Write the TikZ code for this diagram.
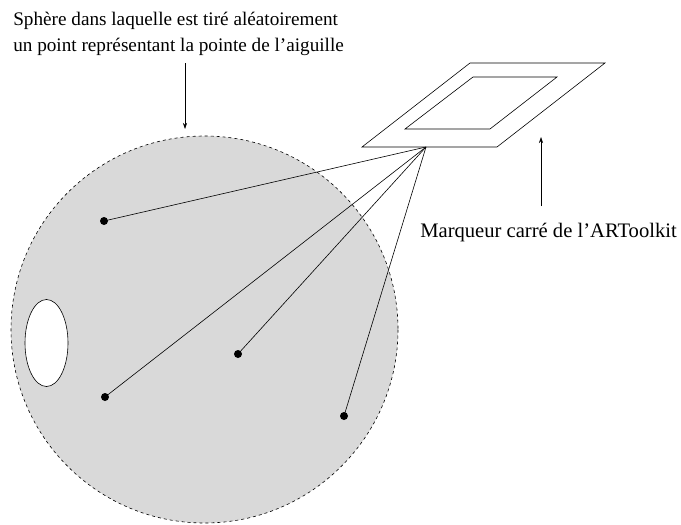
\documentclass[tikz,border=0pt]{standalone}
\usepackage{fontspec}
\setmainfont{Liberation Serif}
\usetikzlibrary{arrows.meta, positioning}

\begin{document}
\begin{tikzpicture}[
    >={Stealth[length=6pt, width=4pt]}, x=1pt, y=-1pt, line width=0.6pt
  ]
  \useasboundingbox (0,0) rectangle (681,525);
  % sphere and hole
  \draw[dashed, fill=black!15] (204.5,329.5) circle (193.5);
  \draw[fill=white] (46.5,343) ellipse (21.5 and 43.5);

  % marker
  \draw (470,63) -- (605,63) -- (497,147) -- (362,147) -- cycle;
  \draw (473,77) -- (557,77) -- (490,129) -- (405,129) -- cycle;
  \coordinate (tip) at (426,147);

  % random points
  \node[circle, fill=black, inner sep=0pt, minimum size=8pt] (p1) at (104,221) {};
  \node[circle, fill=black, inner sep=0pt, minimum size=8pt] (p2) at (105,397) {};
  \node[circle, fill=black, inner sep=0pt, minimum size=8pt] (p3) at (238,354) {};
  \node[circle, fill=black, inner sep=0pt, minimum size=8pt] (p4) at (344,416) {};
  \draw (tip) -- (p1.center);
  \draw (tip) -- (p2.center);
  \draw (tip) -- (p3.center);
  \draw (tip) -- (p4.center);

  % labels
  \node[anchor=north west, align=left, inner sep=0pt,
        font=\fontsize{19.2}{26}\selectfont] (sphtxt) at (13,12)
    {Sphère dans laquelle est tiré aléatoirement\\
     un point représentant la pointe de l'aiguille};
  \coordinate (sphtail) at (185,63);
  \coordinate (sphtip) at (185,129);
  \draw[->] (sphtail) -- (sphtip);

  \node[anchor=base west, inner sep=0pt,
        font=\fontsize{20.6}{26}\selectfont] (martxt) at (420,237)
    {Marqueur carré de l'ARToolkit};
  \coordinate (martail) at (541,206);
  \coordinate (martip) at (541,137);
  \draw[->] (martail) -- (martip);
\end{tikzpicture}
\end{document}
